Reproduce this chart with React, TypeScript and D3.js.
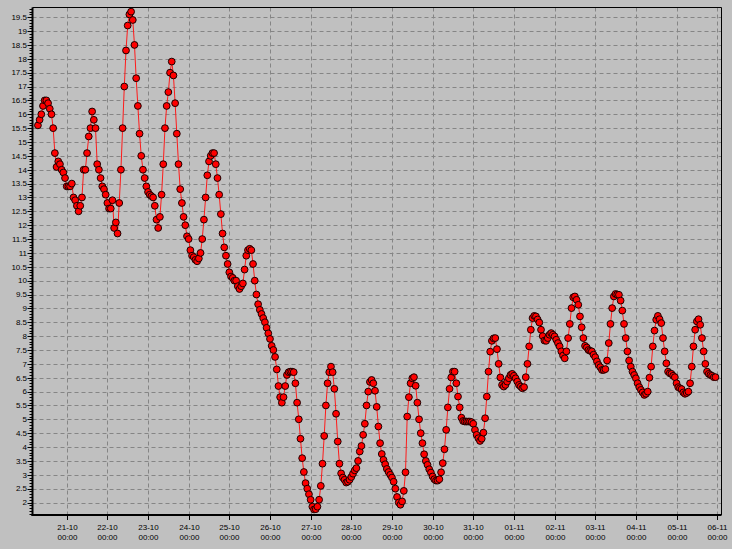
import React from "react";
import * as d3 from "d3";

const WIDTH = 732;
const HEIGHT = 549;

// hourly readings, starting 20-10 07:00
const seriesStart = new Date(2009, 9, 20, 7, 0);

const readings20to24 = [
  15.6, 15.8, 16.0, 16.3, 16.5, 16.5, 16.4, 16.2, 16.0, 15.5,
  14.6, 14.1, 14.3, 14.2, 14.0, 13.9, 13.7, 13.4, 13.4, 13.4,
  13.5, 13.0, 12.9, 12.7, 12.5, 12.7, 13.0, 14.0, 14.0, 14.6,
  15.2, 15.5, 16.1, 15.8, 15.5, 14.2, 14.0, 13.7, 13.4, 13.3,
  13.1, 12.8, 12.6, 12.6, 12.9, 11.9, 12.1, 11.7, 12.8, 14.0,
  15.5, 17.0, 18.3, 19.2, 19.6, 19.7, 19.4, 18.5, 17.3, 16.3,
  15.3, 14.5, 14.0, 13.7, 13.4, 13.2, 13.1, 13.05, 13.0, 12.7,
  12.2, 11.9, 12.3, 13.1, 14.2, 15.5, 16.3, 16.8, 17.5, 17.9,
  17.4, 16.4, 15.3, 14.2, 13.3, 12.8, 12.3, 12.0, 11.6, 11.5,
  11.1, 10.9, 10.85, 10.75, 10.7, 10.8, 11.0, 11.5, 12.2, 13.0,
];

const readings24to28 = [
  13.8, 14.3, 14.5, 14.6, 14.6, 14.2, 13.7, 13.1, 12.4, 11.7,
  11.2, 10.9, 10.6, 10.3, 10.15, 10.1, 10.0, 10.0, 9.8, 9.7,
  9.8, 9.9, 10.4, 10.9, 11.1, 11.15, 11.1, 10.6, 10.0, 9.5,
  9.15, 8.95, 8.8, 8.65, 8.5, 8.3, 8.1, 7.9, 7.65, 7.5,
  7.25, 6.8, 6.2, 5.8, 5.6, 5.8, 6.2, 6.6, 6.7, 6.72,
  6.72, 6.7, 6.3, 5.6, 5.0, 4.3, 3.6, 3.1, 2.7, 2.5,
  2.3, 2.1, 1.85, 1.75, 1.76, 1.85, 2.1, 2.6, 3.4, 4.4,
  5.5, 6.3, 6.7, 6.9, 6.7, 6.1, 5.2, 4.2, 3.4, 3.05,
  2.9, 2.82, 2.72, 2.75, 2.82, 2.92, 3.04, 3.16, 3.24, 3.5,
  3.84, 4.04, 4.44, 4.84, 5.5, 6.0, 6.35, 6.42, 6.3, 6.03,
];

const readings28to01 = [
  5.45, 4.74, 4.14, 3.75, 3.54, 3.38, 3.21, 3.1, 3.0, 2.9,
  2.75, 2.5, 2.2, 2.0, 1.92, 2.04, 2.42, 3.09, 5.1, 5.8,
  6.3, 6.48, 6.52, 6.21, 5.6, 5.0, 4.5, 4.14, 3.74, 3.5,
  3.36, 3.2, 3.08, 2.94, 2.84, 2.79, 2.79, 2.84, 3.09, 3.42,
  3.92, 4.62, 5.43, 6.1, 6.51, 6.72, 6.72, 6.3, 5.82, 5.43,
  5.06, 4.94, 4.92, 4.92, 4.92, 4.92, 4.9, 4.84, 4.62, 4.44,
  4.32, 4.22, 4.3, 4.52, 5.04, 5.82, 6.72, 7.44, 7.83, 7.92,
  7.93, 7.53, 7.0, 6.51, 6.24, 6.18, 6.24, 6.36, 6.48, 6.6,
  6.64, 6.57, 6.48, 6.36, 6.24, 6.18, 6.12, 6.16, 6.52, 7.0,
  7.63, 8.23, 8.65, 8.73, 8.71, 8.6, 8.49, 8.23, 8.0, 7.84,
];

const readings01to06 = [
  7.83, 7.93, 8.05, 8.11, 8.05, 7.99, 7.87, 7.75, 7.63, 7.45,
  7.3, 7.2, 7.45, 7.93, 8.44, 9.01, 9.4, 9.43, 9.31, 9.13,
  8.71, 8.32, 7.93, 7.65, 7.59, 7.5, 7.47, 7.45, 7.33, 7.24,
  7.09, 6.96, 6.88, 6.78, 6.78, 6.81, 7.12, 7.75, 8.44, 9.01,
  9.43, 9.52, 9.5, 9.49, 9.28, 8.92, 8.44, 7.93, 7.45, 7.12,
  6.9, 6.72, 6.6, 6.48, 6.3, 6.16, 6.06, 5.97, 5.88, 5.92,
  6.0, 6.5, 6.9, 7.63, 8.2, 8.59, 8.73, 8.61, 8.47, 7.93,
  7.45, 7.02, 6.72, 6.66, 6.64, 6.57, 6.52, 6.3, 6.16, 6.12,
  6.09, 5.97, 5.92, 5.95, 6.0, 6.3, 6.9, 7.63, 8.23, 8.53,
  8.61, 8.41, 7.93, 7.45, 7.0, 6.72, 6.64, 6.6, 6.57, 6.52,
  6.52,
];

const readings = [...readings20to24, ...readings24to28, ...readings28to01, ...readings01to06];

const yTickValues = d3.range(2, 19.51, 0.5);
const yMinorTickValues = d3.range(1.6, 19.81, 0.1);
const dayTicks = d3.timeDay.range(new Date(2009, 9, 21), new Date(2009, 10, 7));

const PLOT_LEFT = 32.5;
const PLOT_RIGHT = 721.5;
const PLOT_TOP = 7.5;
const PLOT_BOTTOM = 515;

export default function App() {
  const x = d3
    .scaleTime()
    .domain([new Date(2009, 9, 20, 3, 48), new Date(2009, 10, 6, 2, 33)])
    .range([PLOT_LEFT, PLOT_RIGHT]);
  const y = d3.scaleLinear().domain([1.55, 19.85]).range([PLOT_BOTTOM, PLOT_TOP]);

  const points = readings.map((v, i) => ({ t: d3.timeHour.offset(seriesStart, i), v }));
  const line = d3
    .line<{ t: Date; v: number }>()
    .x((d) => x(d.t))
    .y((d) => y(d.v));

  const fmtDay = d3.timeFormat("%d-%m");
  const fmtTime = d3.timeFormat("%H:%M");
  const font = "'Liberation Sans', Arial, sans-serif";
  const grid = "#858585";

  return (
    <svg
      width={WIDTH}
      height={HEIGHT}
      style={{ position: "absolute", left: 0, top: 0, display: "block" }}
    >
      <rect x={0} y={0} width={WIDTH} height={HEIGHT} fill="#c0c0c0" />
      {/* grid */}
      {yTickValues.map((v) => (
        <line
          key={"gy" + v}
          x1={PLOT_LEFT}
          x2={PLOT_RIGHT}
          y1={Math.round(y(v)) + 0.5}
          y2={Math.round(y(v)) + 0.5}
          stroke={grid}
          strokeWidth={1}
          strokeDasharray="4,3"
        />
      ))}
      {dayTicks.map((d) => (
        <line
          key={"gx" + d.getTime()}
          x1={Math.round(x(d)) + 0.5}
          x2={Math.round(x(d)) + 0.5}
          y1={PLOT_TOP}
          y2={PLOT_BOTTOM}
          stroke={grid}
          strokeWidth={1}
          strokeDasharray="4,3"
        />
      ))}
      {/* frame */}
      <line x1={PLOT_LEFT} x2={PLOT_RIGHT} y1={PLOT_TOP} y2={PLOT_TOP} stroke="#000" strokeWidth={1} />
      <line x1={PLOT_RIGHT} x2={PLOT_RIGHT} y1={PLOT_TOP} y2={PLOT_BOTTOM} stroke="#000" strokeWidth={1} />
      <line x1={PLOT_LEFT} x2={PLOT_LEFT} y1={PLOT_TOP} y2={PLOT_BOTTOM + 1} stroke="#000" strokeWidth={2} />
      <line x1={PLOT_LEFT - 1} x2={PLOT_RIGHT} y1={PLOT_BOTTOM} y2={PLOT_BOTTOM} stroke="#000" strokeWidth={2} />
      {/* y ticks */}
      {yMinorTickValues.map((v) => (
        <line
          key={"ym" + v}
          x1={PLOT_LEFT - 3}
          x2={PLOT_LEFT}
          y1={Math.round(y(v)) + 0.5}
          y2={Math.round(y(v)) + 0.5}
          stroke="#000"
          strokeWidth={1}
        />
      ))}
      {yTickValues.map((v) => (
        <g key={"yt" + v}>
          <line
            x1={PLOT_LEFT - 5}
            x2={PLOT_LEFT}
            y1={Math.round(y(v)) + 0.5}
            y2={Math.round(y(v)) + 0.5}
            stroke="#000"
            strokeWidth={1}
          />
          <text
            x={27}
            y={y(v)}
            dy="0.35em"
            textAnchor="end"
            fontFamily={font}
            fontSize={8}
            fill="#000"
          >
            {String(v)}
          </text>
        </g>
      ))}
      {/* x ticks */}
      {dayTicks.map((d) => {
        const px = Math.round(x(d)) + 0.5;
        return (
          <g key={"xt" + d.getTime()}>
            <line x1={px} x2={px} y1={PLOT_BOTTOM} y2={PLOT_BOTTOM + 5} stroke="#000" strokeWidth={1} />
            <text x={px} y={530} textAnchor="middle" fontFamily={font} fontSize={8} fill="#000">
              {fmtDay(d)}
            </text>
            <text x={px} y={540} textAnchor="middle" fontFamily={font} fontSize={8} fill="#000">
              {fmtTime(d)}
            </text>
          </g>
        );
      })}
      {/* series */}
      <path d={line(points) || ""} fill="none" stroke="#ff1a1a" strokeWidth={1} />
      {points.map((p, i) => (
        <circle
          key={"p" + i}
          cx={x(p.t)}
          cy={y(p.v)}
          r={3.4}
          fill="#ff0000"
          stroke="#1a0000"
          strokeWidth={1}
        />
      ))}
    </svg>
  );
}
